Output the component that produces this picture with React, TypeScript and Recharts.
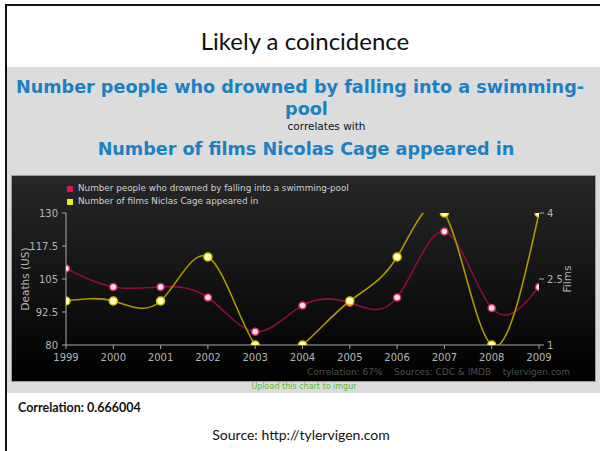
import React from 'react';
import { LineChart, Line, XAxis, YAxis } from 'recharts';

const years = [1999, 2000, 2001, 2002, 2003, 2004, 2005, 2006, 2007, 2008, 2009];
const drownings = [109, 102, 102, 98, 85, 95, 96, 98, 123, 94, 102];
const films = [2, 2, 2, 3, 1, 1, 2, 3, 4, 1, 4];
const deathTicks = [80, 92.5, 105, 117.5, 130];
const filmTicks = [1, 2.5, 4];

const drownName = 'Number people who drowned by falling into a swimming-pool';
const filmName = 'Number of films Niclas Cage appeared in';

const data = years.map((year, i) => ({ year, drownings: drownings[i], films: films[i] }));

const chartFont = '"DejaVu Sans", sans-serif';
const tickStyle = { fill: '#b4b4b4', fontSize: 10, fontFamily: chartFont };

const abs = (s: React.CSSProperties): React.CSSProperties => ({ position: 'absolute', ...s });

const blue: React.CSSProperties = { fontFamily: '"DejaVu Sans", sans-serif', fontWeight: 'bold', fontSize: 17.6, color: '#1b80c4', lineHeight: '22px', whiteSpace: 'nowrap', textAlign: 'center' };

export default function App() {
  return (
    <div style={{ position: 'absolute', left: 0, top: 0, width: 600, height: 451, background: '#fff', overflow: 'hidden', fontFamily: 'Lato, sans-serif' }}>
      {/* slide frame */}
      <div style={abs({ left: 5, top: 4, width: 600, height: 460, borderLeft: '2px solid #111', borderTop: '2px solid #111' })} />
      <div style={abs({ left: 0, top: 26, width: 610, textAlign: 'center', fontSize: 24, color: '#111', lineHeight: '30px' })}>Likely a coincidence</div>
      {/* gray band */}
      <div style={abs({ left: 7, top: 67, width: 593, height: 326, background: '#dcdcdc' })} />
      <div style={abs({ left: 0, top: 76, width: 600, ...blue })}>Number people who drowned by falling into a swimming-</div>
      <div style={abs({ left: 10, top: 98, width: 593, ...blue })}>pool</div>
      <div style={abs({ left: 30, top: 119, width: 593, textAlign: 'center', fontFamily: '"DejaVu Sans", sans-serif', fontSize: 10.5, color: '#111', lineHeight: '14px' })}>correlates with</div>
      <div style={abs({ left: 6, top: 138, width: 600, ...blue })}>Number of films Nicolas Cage appeared in</div>

      {/* dark chart box */}
      <div style={abs({ left: 11, top: 175, width: 583, height: 205, border: '1px solid #9c9c9c', background: 'linear-gradient(#272727, #000000)' })}>
        <LineChart width={583} height={205} data={data} margin={{ top: 37, right: 16, bottom: 16, left: 14 }}>
          <XAxis
            dataKey="year"
            type="number"
            domain={[1999, 2009]}
            ticks={years}
            interval={0}
            height={20}
            tickSize={4}
            tickMargin={5}
            stroke="#aaaaaa"
            tick={tickStyle}
            allowDataOverflow
          />
          <YAxis
            yAxisId="left"
            domain={[80, 130]}
            ticks={deathTicks}
            interval={0}
            width={40}
            tickSize={4}
            tickMargin={4}
            stroke="#aaaaaa"
            tick={tickStyle}
            allowDataOverflow
            label={{
              content: (p: any) => {
                const vb = p.viewBox || {};
                const cx = vb.x - 1;
                const cy = vb.y + vb.height / 2;
                return (
                  <text x={cx} y={cy} transform={`rotate(-90 ${cx} ${cy})`} textAnchor="middle" dominantBaseline="central" fill="#b4b4b4" fontSize={10.5} fontFamily={chartFont}>Deaths (US)</text>
                );
              },
            }}
          />
          <YAxis
            yAxisId="right"
            orientation="right"
            domain={[1, 4]}
            ticks={filmTicks}
            interval={0}
            width={40}
            tickSize={5}
            tickMargin={3}
            axisLine={false}
            stroke="#aaaaaa"
            tick={tickStyle}
            allowDataOverflow
            label={{
              content: (p: any) => {
                const vb = p.viewBox || {};
                const cx = vb.x + 28;
                const cy = vb.y + vb.height / 2;
                return (
                  <text x={cx} y={cy} transform={`rotate(-90 ${cx} ${cy})`} textAnchor="middle" dominantBaseline="central" fill="#b4b4b4" fontSize={10.5} fontFamily={chartFont}>Films</text>
                );
              },
            }}
          />
          <Line
            yAxisId="left"
            dataKey="drownings"
            name={drownName}
            type="natural"
            stroke="#8e0c3e"
            strokeWidth={1.6}
            dot={{ r: 3.5, fill: '#ffe0ec', stroke: '#d0306a', strokeWidth: 1.5 }}
            isAnimationActive={false}
          />
          <Line
            yAxisId="right"
            dataKey="films"
            name={filmName}
            type="natural"
            stroke="#ab9800"
            strokeWidth={1.6}
            dot={{ r: 4, fill: '#ffffb8', stroke: '#d8c400', strokeWidth: 1.5 }}
            isAnimationActive={false}
          />
        </LineChart>
        {/* legend */}
        <div style={abs({ left: 55, top: 6, fontFamily: chartFont, fontSize: 8.8, color: '#d0d0d0', lineHeight: '13px' })}>
          <div style={{ display: 'flex', alignItems: 'center' }}>
            <span style={{ display: 'inline-block', width: 6, height: 6, background: '#d8145a', marginRight: 5 }} />
            {drownName}
          </div>
          <div style={{ display: 'flex', alignItems: 'center' }}>
            <span style={{ display: 'inline-block', width: 6, height: 6, background: '#ecec10', marginRight: 5 }} />
            {filmName}
          </div>
        </div>
        {/* credits */}
        <div style={abs({ left: 295, top: 190, fontFamily: chartFont, fontSize: 9, color: '#4e4e4e', whiteSpace: 'pre', lineHeight: '12px' })}>{'Correlation: 67%    Sources: CDC & IMDB    tylervigen.com'}</div>
      </div>

      <div style={abs({ left: 4, top: 381, width: 600, textAlign: 'center', fontFamily: chartFont, fontSize: 8, color: '#5cb82c', lineHeight: '12px' })}>Upload this chart to imgur</div>
      <div style={abs({ left: 18, top: 400, fontWeight: 'bold', fontSize: 12.5, color: '#111', lineHeight: '16px' })}>Correlation: 0.666004</div>
      <div style={abs({ left: 0, top: 427, width: 602, textAlign: 'center', fontSize: 14, color: '#111', lineHeight: '16px' })}>Source: http://tylervigen.com</div>
    </div>
  );
}
